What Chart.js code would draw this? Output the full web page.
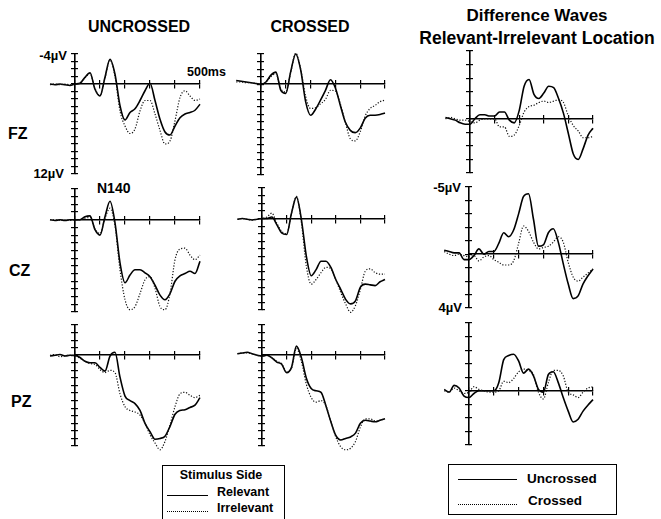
<!DOCTYPE html>
<html><head><meta charset="utf-8">
<script src="https://cdn.jsdelivr.net/npm/chart.js@4.4.0/dist/chart.umd.min.js"></script>
<style>
html,body{margin:0;padding:0;background:#fff;}
#wrap{position:relative;width:661px;height:519px;overflow:hidden;font-family:"Liberation Sans",Arial,Helvetica,sans-serif;color:#000;background:#fff;}
canvas{position:absolute;}
.t{position:absolute;white-space:nowrap;font-weight:bold;line-height:1;}
.c{transform:translate(-50%,-50%);}
.r{transform:translate(-100%,-50%);}
.l{transform:translate(0,-50%);}
.box{position:absolute;border:1px solid #000;box-sizing:border-box;}
.ln{position:absolute;height:0;border-top:1px solid #000;}
.dt{border-top:1px dotted #000;}
</style></head><body>
<div id="wrap">
  <div class="t c" style="left:139px;top:27px;font-size:16px;">UNCROSSED</div>
  <div class="t c" style="left:310px;top:27px;font-size:16px;">CROSSED</div>
  <div class="t c" style="left:537px;top:15px;font-size:17px;">Difference Waves</div>
  <div class="t c" style="left:537px;top:39px;font-size:17.5px;">Relevant-Irrelevant Location</div>
  <div class="t l" style="left:8px;top:134px;font-size:16px;">FZ</div>
  <div class="t l" style="left:9px;top:271px;font-size:16px;">CZ</div>
  <div class="t l" style="left:11px;top:402px;font-size:16px;">PZ</div>
  <div class="t r" style="left:67px;top:55px;font-size:13px;">-4µV</div>
  <div class="t r" style="left:64px;top:173px;font-size:13px;">12µV</div>
  <div class="t l" style="left:187px;top:72px;font-size:12.5px;">500ms</div>
  <div class="t l" style="left:97px;top:188px;font-size:14px;">N140</div>
  <div class="t r" style="left:461px;top:187px;font-size:13px;">-5µV</div>
  <div class="t r" style="left:462px;top:307px;font-size:13px;">4µV</div>

  <div class="box" style="left:162px;top:465px;width:123px;height:70px;"></div>
  <div class="t c" style="left:221px;top:475px;font-size:12.5px;">Stimulus Side</div>
  <div class="ln" style="left:167px;top:495px;width:41px;"></div>
  <div class="t l" style="left:217px;top:492px;font-size:12.5px;">Relevant</div>
  <div class="ln dt" style="left:167px;top:511px;width:41px;"></div>
  <div class="t l" style="left:217px;top:508px;font-size:12.5px;">Irrelevant</div>

  <div class="box" style="left:448px;top:464px;width:169px;height:51px;"></div>
  <div class="ln" style="left:458px;top:479px;width:59px;"></div>
  <div class="t l" style="left:527px;top:479px;font-size:13.5px;">Uncrossed</div>
  <div class="ln dt" style="left:458px;top:504px;width:59px;"></div>
  <div class="t l" style="left:528px;top:501px;font-size:13.5px;">Crossed</div>
</div>
<script>
// time points (ms)
const T = [-100,-80,-60,-40,-20,0,20,40,60,80,100,120,140,160,180,200,220,240,260,280,300,320,340,360,380,400,420,440,460,480,500];

// ERP amplitudes in µV (negative up)
const uncFZ_rel = [0,0.1,0,0.1,0.2, 0,-0.1,-0.9,-1.5,0.7, 1.6,-0.9,-3.3,-1.3,2.9, 4.8,3.8,3.3,2.2,0.9, -0.1,2.2,4.7,6.4,6.8, 5.6,4.5,4.0,3.8,3.5, 2.7];
const uncFZ_irr = [0.1,0,0.1,0,0.1, 0,-0.1,-0.8,-1.4,0.6, 1.5,-0.8,-3.2,-1.0,3.6, 5.6,6.6,6.0,3.6,2.2, 2.2,4.0,6.2,8.0,7.6, 4.9,1.8,0.9,1.6,2.2, 2.0];
const croFZ_rel = [-0.5,-0.4,-0.3,-0.2,-0.1, 0,-0.3,-1.2,-1.6,0.8, 1.2,-1.7,-4.0,-1.9,2.3, 4.1,3.3,2.1,0.8,-0.6, 0.5,2.8,5.0,6.1,6.4, 5.8,4.5,4.1,4.1,4.0, 3.8];
const croFZ_irr = [-0.3,-0.3,-0.2,-0.2,-0.1, 0,-0.3,-1.0,-1.4,0.6, 1.0,-1.6,-4.1,-2.0,1.6, 3.2,3.1,2.6,2.0,0.8, 0.9,2.6,5.0,7.2,7.5, 6.3,4.2,3.2,2.8,2.3, 2.1];
const difFZ_unc = [-0.1,0,0.1,0.3,0.4, 0.4,0.0,-0.3,-0.3,-0.2, -0.2,-0.5,-0.5,0.1,0.3, -0.6,-2.4,-2.9,-1.8,-1.5, -1.9,-2.4,-2.3,-1.5,-0.4, 1.1,2.6,3.0,2.2,1.2, 0.7];
const difFZ_cro = [0,-0.1,0,0.1,0.1, 0.2,0.3,0.1,0,0, 0,0.6,0.6,1.3,1.2, 0.5,-0.5,-0.9,-1.0,-1.2, -1.3,-1.2,-1.3,-1.4,-1.2, -0.2,0.5,0.9,1.4,1.4, 1.3];

const uncCZ_rel = [0,0.1,0,0.1,0, 0,0,-0.4,-0.5,1.3, 2.0,-0.4,-2.4,0.4,5.6, 8.2,7.2,6.5,6.5,6.9, 7.4,8.5,9.8,10.4,9.6, 8.0,7.3,7.0,6.7,7.0, 5.4];
const uncCZ_irr = [0,0,0.1,0,0.1, 0,0,-0.2,-0.3,1.2, 1.8,-0.2,-1.5,0.8,6.5, 10.4,11.7,11.3,9.6,7.8, 7.4,8.9,11.3,11.7,9.6, 5.2,3.8,3.7,4.6,5.2, 4.6];
const croCZ_rel = [0.1,0,0.1,0.2,0.1, 0,0,-0.2,0.8,1.9, 2.1,-0.7,-2.8,0.1,4.9, 7.5,6.7,5.6,5.6,6.4, 8.0,9.3,10.6,11.2,10.8, 9.0,8.6,8.7,8.8,8.3, 8.0];
const croCZ_irr = [0.1,0,0.1,0.2,0.1, 0,-0.2,-0.7,0.6,1.7, 2.0,-0.7,-2.9,0.5,6.2, 8.6,8.0,7.1,6.4,6.6, 8.0,9.7,11.2,12.3,11.4, 9.3,6.9,6.6,7.1,7.3, 7.3];
const difCZ_unc = [-0.3,-0.2,-0.1,-0.1,0.4, 0.4,0.1,-0.4,0,-0.2, -0.2,-0.8,-1.6,-1.3,-1.8, -3.0,-4.3,-4.5,-2.6,-0.6, -0.7,-1.6,-1.9,-0.9,0.7, 2.2,3.3,3.1,2.2,1.6, 1.1];
const difCZ_cro = [-0.2,0,0.1,0,0.1, 0.2,0.1,0.5,0.2,0.1, 0.4,0.6,0.8,0.8,0.5, -0.8,-2.1,-1.7,-0.9,-0.4, -0.5,-0.6,-0.9,-1.3,-0.9, 0.6,1.7,2.0,1.7,1.4, 1.1];

const uncPZ_rel = [0.1,0,-0.1,0.1,0, 0,0.3,0.8,1.0,1.0, 1.6,2.1,0.1,-0.4,2.9, 5.4,6.0,6.4,7.3,9.0, 10.1,11.1,11.0,10.7,9.4, 7.8,7.3,7.2,6.9,6.6, 5.6];
const uncPZ_irr = [0,-0.1,0.2,0.1,0, 0.1,0.4,0.8,1.1,1.2, 1.9,2.3,2.0,2.3,5.1, 6.8,7.3,7.5,7.9,9.0, 10.5,11.6,12.5,11.4,9.2, 6.8,5.1,4.9,5.3,5.6, 5.3];
const croPZ_rel = [-0.2,-0.3,-0.4,-0.2,0, 0.1,0,0.35,0.9,1.2, 2.3,1.6,-1.2,0.3,3.0, 4.4,4.7,4.9,6.7,8.8, 10.6,11.2,11.0,10.8,10.3, 9.0,8.6,8.7,8.8,8.6, 8.4];
const croPZ_irr = [-0.2,-0.3,-0.3,-0.2,0, 0.1,0,0.3,0.8,1.1, 2.2,1.7,-0.9,0.8,3.8, 5.6,6.2,6.0,6.7,8.8, 10.8,12.1,12.5,12.3,11.4, 9.5,8.4,8.4,8.7,8.6, 8.4];
const difPZ_unc = [-0.1,0.1,-0.4,-0.2,0.4, 0.5,0.2,0,0,0, 0,-0.6,-2.3,-2.6,-2.7, -2.2,-1.3,-1.6,-1.1,-0.1, 0.1,-1.2,-1.4,-0.6,0.5, 1.5,2.3,2.1,1.5,1.05, 0.65];
const difPZ_cro = [0,0.1,-0.2,0,0.2, 0.1,-0.3,-0.1,0,0.1, 0.1,0,-0.7,-0.6,-0.9, -1.4,-1.6,-1.5,-1.2,0.1, 0.6,-0.6,-1.5,-1.5,-1.1, 0.1,0.3,0.5,0.1,-0.2, -0.3];

// axis ranges and ticks
const ERP_RANGE = [-4, 12];
const DIFF_RANGE = [-5, 4];
const TIME_RANGE = [0, 500];
const TIME_STEP = 100;
const AMP_STEP = 1;

// layout (plot area boxes: left, top, right, bottom)
const panels = [
  {a: uncFZ_rel, b: uncFZ_irr, yr: ERP_RANGE,  box: [75, 54, 200, 174]},
  {a: croFZ_rel, b: croFZ_irr, yr: ERP_RANGE,  box: [261, 54, 385, 175]},
  {a: difFZ_unc, b: difFZ_cro, yr: DIFF_RANGE, box: [470, 51, 593, 173]},
  {a: uncCZ_rel, b: uncCZ_irr, yr: ERP_RANGE,  box: [75, 189, 200, 312]},
  {a: croCZ_rel, b: croCZ_irr, yr: ERP_RANGE,  box: [262, 188, 385, 310]},
  {a: difCZ_unc, b: difCZ_cro, yr: DIFF_RANGE, box: [469, 187, 593, 308]},
  {a: uncPZ_rel, b: uncPZ_irr, yr: ERP_RANGE,  box: [75, 325, 200, 446]},
  {a: croPZ_rel, b: croPZ_irr, yr: ERP_RANGE,  box: [262, 325, 385, 446]},
  {a: difPZ_unc, b: difPZ_cro, yr: DIFF_RANGE, box: [469, 323, 593, 445]}
];

const PAD = {left: 34, top: 10, right: 12, bottom: 12};
const wrap = document.getElementById('wrap');

function xAxis(tl, showBorder) {
  return {
    type: 'linear', axis: 'x', bounds: 'data',
    // time axis shown from 0 to 500 ms; pre-stimulus baseline drawn to the left of it
    afterDataLimits: (s) => { s.min = TIME_RANGE[0]; s.max = TIME_RANGE[1]; },
    position: {y: 0},
    ticks: {display: false, stepSize: TIME_STEP, maxTicksLimit: 100},
    grid: {display: true, drawOnChartArea: false, drawTicks: true, tickLength: tl, color: '#000', lineWidth: 1.2},
    border: {display: showBorder, color: '#000', width: 1.6}
  };
}
function yAxis(range, tl, showBorder) {
  return {
    type: 'linear', axis: 'y', min: range[0], max: range[1], reverse: true,
    position: {x: 0},
    ticks: {display: false, stepSize: AMP_STEP, maxTicksLimit: 100},
    grid: {display: true, drawOnChartArea: false, drawTicks: true, tickLength: tl, color: '#000', lineWidth: 1.2},
    border: {display: showBorder, color: '#000', width: 1.6}
  };
}

panels.forEach(p => {
  const [x0, y0, x1, y1] = p.box;
  const w = x1 - x0 + PAD.left + PAD.right;
  const h = y1 - y0 + PAD.top + PAD.bottom;
  const cv = document.createElement('canvas');
  cv.width = w; cv.height = h;
  cv.style.left = (x0 - PAD.left) + 'px';
  cv.style.top = (y0 - PAD.top) + 'px';
  cv.style.width = w + 'px';
  cv.style.height = h + 'px';
  wrap.appendChild(cv);
  new Chart(cv, {
    type: 'line',
    data: {
      datasets: [
        {data: T.map((t, i) => ({x: t, y: p.b[i]})), borderColor: '#111', borderWidth: 1.2,
         borderDash: [1.2, 1.7], pointRadius: 0, cubicInterpolationMode: 'monotone', clip: false, fill: false},
        {data: T.map((t, i) => ({x: t, y: p.a[i]})), borderColor: '#000', borderWidth: 1.6,
         pointRadius: 0, cubicInterpolationMode: 'monotone', clip: false, fill: false}
      ]
    },
    options: {
      responsive: false, animation: false, events: [], devicePixelRatio: 1,
      layout: {padding: PAD},
      plugins: {legend: {display: false}, tooltip: {enabled: false}, title: {display: false}},
      scales: {
        x: xAxis(4, true), xb: xAxis(-4, false),
        y: yAxis(p.yr, 3, true), yb: yAxis(p.yr, -3, false)
      }
    }
  });
});
</script>
</body></html>
